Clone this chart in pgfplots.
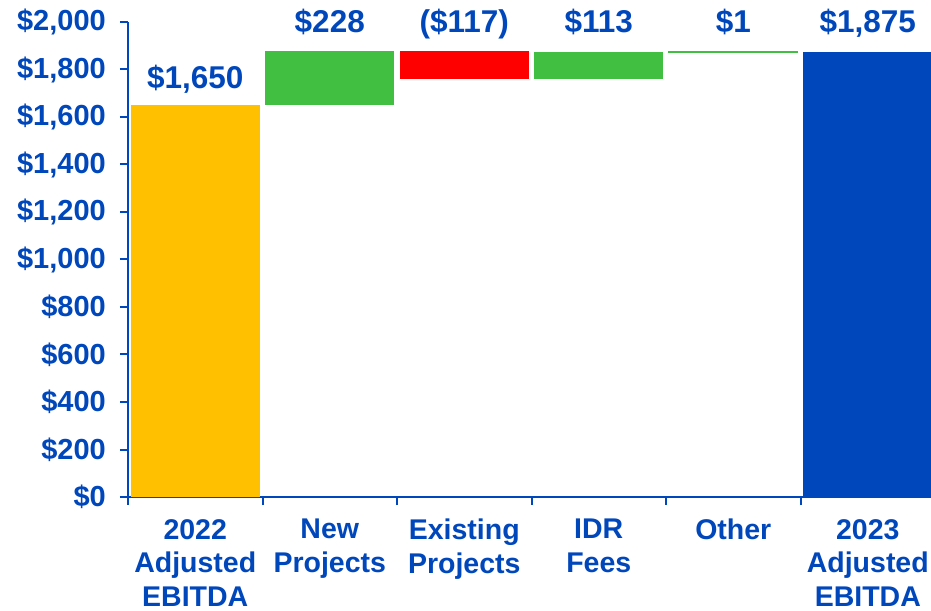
\documentclass[border=0pt]{standalone}
\usepackage{pgfplots}
\pgfplotsset{compat=1.18}
\usepackage{fontspec}
\setmainfont{Liberation Sans}
\definecolor{tblue}{RGB}{0,71,187}
\definecolor{bgold}{RGB}{255,192,0}
\definecolor{bgreen}{RGB}{64,191,64}
\definecolor{bred}{RGB}{255,0,0}
\definecolor{bblue}{RGB}{0,71,187}
\begin{document}
\begin{tikzpicture}
\begin{axis}[name=ax, at={(0,0)}, anchor=south west,
  scale only axis, width=803pt, height=475pt,
  xmin=-0.5, xmax=5.47, ymin=0, ymax=2000,
  axis x line=bottom, axis y line=left,
  axis line style={tblue, line width=2pt, -},
  clip mode=individual,
  ytick={0,200,...,2000},
  yticklabels={\$0,\$200,\$400,\$600,\$800,{\$1,000},{\$1,200},{\$1,400},{\$1,600},{\$1,800},{\$2,000}},
  xtick={0,1,2,3,4,5},
  xticklabels={{2022\\Adjusted\\EBITDA},{New\\Projects},{Existing\\Projects},{IDR\\Fees},{Other},{2023\\Adjusted\\EBITDA}},
  major x tick style={draw=none},
  minor xtick={-0.5,0.5,1.5,2.5,3.5,4.5},
  tick align=outside, major tick length=8pt, minor tick length=8pt,
  tick style={tblue, line width=2pt},
  yticklabel style={font=\fontsize{29}{34.5}\selectfont\bfseries, text=tblue, inner sep=0pt, xshift=-14pt},
  xticklabel style={font=\fontsize{28.5}{33.5}\selectfont\bfseries, text=tblue, align=center, inner sep=0pt, yshift=-14pt},
]
% 2022 Adjusted EBITDA
\addplot[fill=bgold, draw=none] coordinates {(-0.48,0) (0.48,0) (0.48,1650) (-0.48,1650)} -- cycle;
% New Projects +228
\addplot[fill=bgreen, draw=none] coordinates {(0.52,1650) (1.48,1650) (1.48,1878) (0.52,1878)} -- cycle;
% Existing Projects -117
\addplot[fill=bred, draw=none] coordinates {(1.52,1761) (2.48,1761) (2.48,1878) (1.52,1878)} -- cycle;
% IDR Fees +113
\addplot[fill=bgreen, draw=none] coordinates {(2.52,1761) (3.48,1761) (3.48,1874) (2.52,1874)} -- cycle;
% Other +1
\addplot[fill=bgreen, draw=bgreen, line width=1.2pt] coordinates {(3.52,1874) (4.48,1874) (4.48,1875) (3.52,1875)} -- cycle;
% 2023 Adjusted EBITDA
\addplot[fill=bblue, draw=none] coordinates {(4.52,0) (5.48,0) (5.48,1875) (4.52,1875)} -- cycle;
% data labels
\addplot[only marks, mark=none, nodes near coords, point meta=explicit symbolic,
  nodes near coords style={anchor=base, font=\fontsize{31.5}{36}\selectfont\bfseries, text=tblue, inner sep=0pt}]
  table[meta=lab] {
x y lab
0 1718 {\$1,650}
1 1954 {\$228}
2 1954 {(\$117)}
3 1954 {\$113}
4 1954 {\$1}
5 1954 {\$1,875}
};
\end{axis}
\pgfresetboundingbox
\path ([xshift=-128pt,yshift=-113pt]ax.south west) rectangle ([yshift=22pt]ax.north east);
\end{tikzpicture}
\end{document}
